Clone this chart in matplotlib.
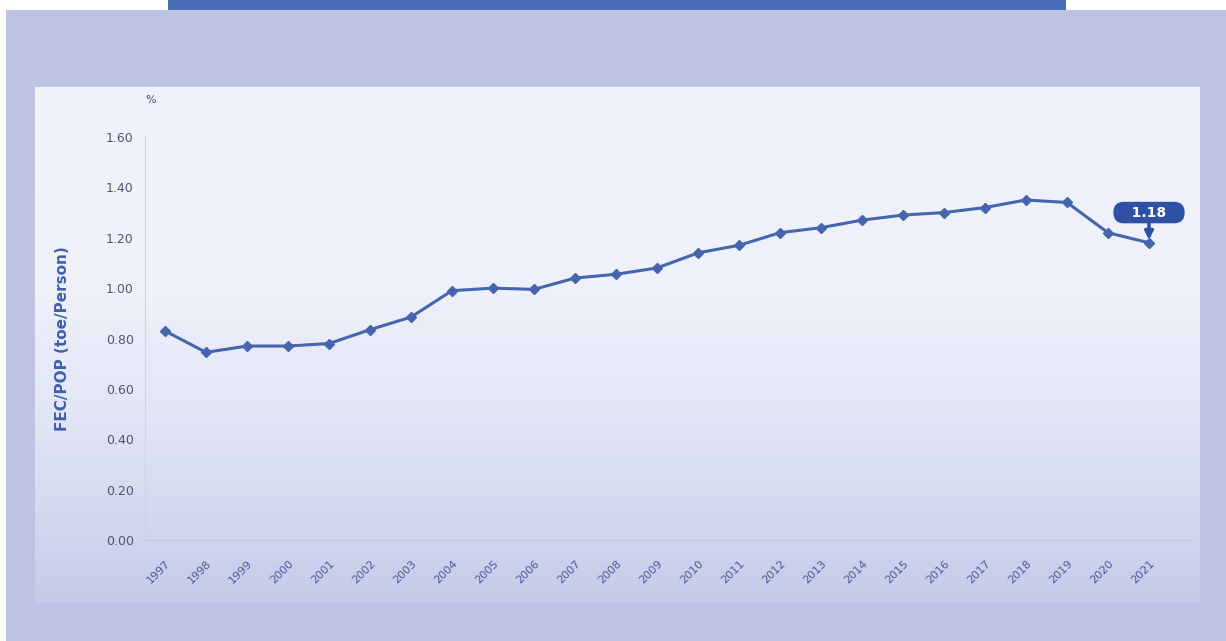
import numpy as np
import matplotlib.pyplot as plt
from matplotlib.patches import Rectangle
from matplotlib.colors import LinearSegmentedColormap

years = [str(y) for y in range(1997, 2022)]
fec_pop = [0.83, 0.745, 0.77, 0.77, 0.78, 0.835, 0.885, 0.99, 1.00, 0.995,
           1.04, 1.055, 1.08, 1.14, 1.17, 1.22, 1.24, 1.27, 1.29, 1.30,
           1.32, 1.35, 1.34, 1.22, 1.18]
y_ticks = [0.0, 0.2, 0.4, 0.6, 0.8, 1.0, 1.2, 1.4, 1.6]
last_label = "1.18"

W, H = 1226, 641
fig = plt.figure(figsize=(W / 100, H / 100), dpi=100, facecolor="white")

def fx(px):
    return px / W

def fy(py):
    return 1 - py / H

# background: lavender frame + blue strip on top
frame = fig.add_axes([0, 0, 1, 1], zorder=-2)
frame.set_xlim(0, W)
frame.set_ylim(H, 0)
frame.axis("off")
frame.add_patch(Rectangle((6, 10), W - 6, H - 10, facecolor="#BCC3E3", edgecolor="none"))
frame.add_patch(Rectangle((168, 0), 1066 - 168, 10, facecolor="#4A6DB5", edgecolor="none"))

# gradient inner panel
bg = fig.add_axes([fx(35), fy(603), fx(1200 - 35), (603 - 87) / H], zorder=-1)
cmap = LinearSegmentedColormap.from_list(
    "bgg", [(0, "#F1F3FC"), (0.4, "#EEF0FA"), (0.62, "#E3E6F5"), (0.87, "#D1D6EE"), (1, "#C3CBE8")])
grad = np.linspace(0, 1, 256).reshape(-1, 1)
bg.imshow(grad, aspect="auto", cmap=cmap, extent=[0, 1, 0, 1], origin="upper")
bg.axis("off")

ax = fig.add_axes([fx(145), fy(540), fx(1190 - 145), (540 - 137) / H], zorder=1)
ax.patch.set_alpha(0)
x = np.arange(len(years))
ax.plot(x, fec_pop, color="#4665AE", lw=2.2, marker="D", ms=5.5, mfc="#4665AE", mec="#4665AE")
ax.set_xlim(-20 / 41, (1190 - 165) / 41)
ax.set_ylim(0, 1.6)
ax.set_yticks(y_ticks)
ax.set_yticklabels([f"{v:.2f}" for v in y_ticks], fontsize=9, color="#50566F")
ax.set_xticks(x)
ax.set_xticklabels(years, rotation=45, fontsize=8, color="#4A5A9A", ha="right", rotation_mode="anchor")
ax.tick_params(axis="both", length=0, pad=8)
ax.tick_params(axis="x", pad=13)
for s in ["top", "right"]:
    ax.spines[s].set_visible(False)
ax.spines["left"].set_color("#D0D3E0")
ax.spines["bottom"].set_color("#C4C8DA")
ax.set_ylabel("FEC/POP (toe/Person)", fontsize=11, fontweight="bold", color="#3F5FAF", labelpad=26)
ax.text(0, 1.745, "%", transform=ax.get_yaxis_transform(), fontsize=8, color="#4A5070",
        ha="left", va="center")

# callout on last point
ax.annotate("   " + last_label + "   ", xy=(x[-1], fec_pop[-1]), xytext=(x[-1], fec_pop[-1] + 0.12),
            ha="center", va="center", fontsize=10, fontweight="bold", color="white",
            bbox=dict(boxstyle="round,pad=0.22,rounding_size=0.7", fc="#2E50A5", ec="#2E50A5"),
            arrowprops=dict(arrowstyle="-|>", color="#2E50A5", lw=2.5, mutation_scale=12,
                            shrinkA=0, shrinkB=2))

fig.savefig("out.png", dpi=100, facecolor="white")
